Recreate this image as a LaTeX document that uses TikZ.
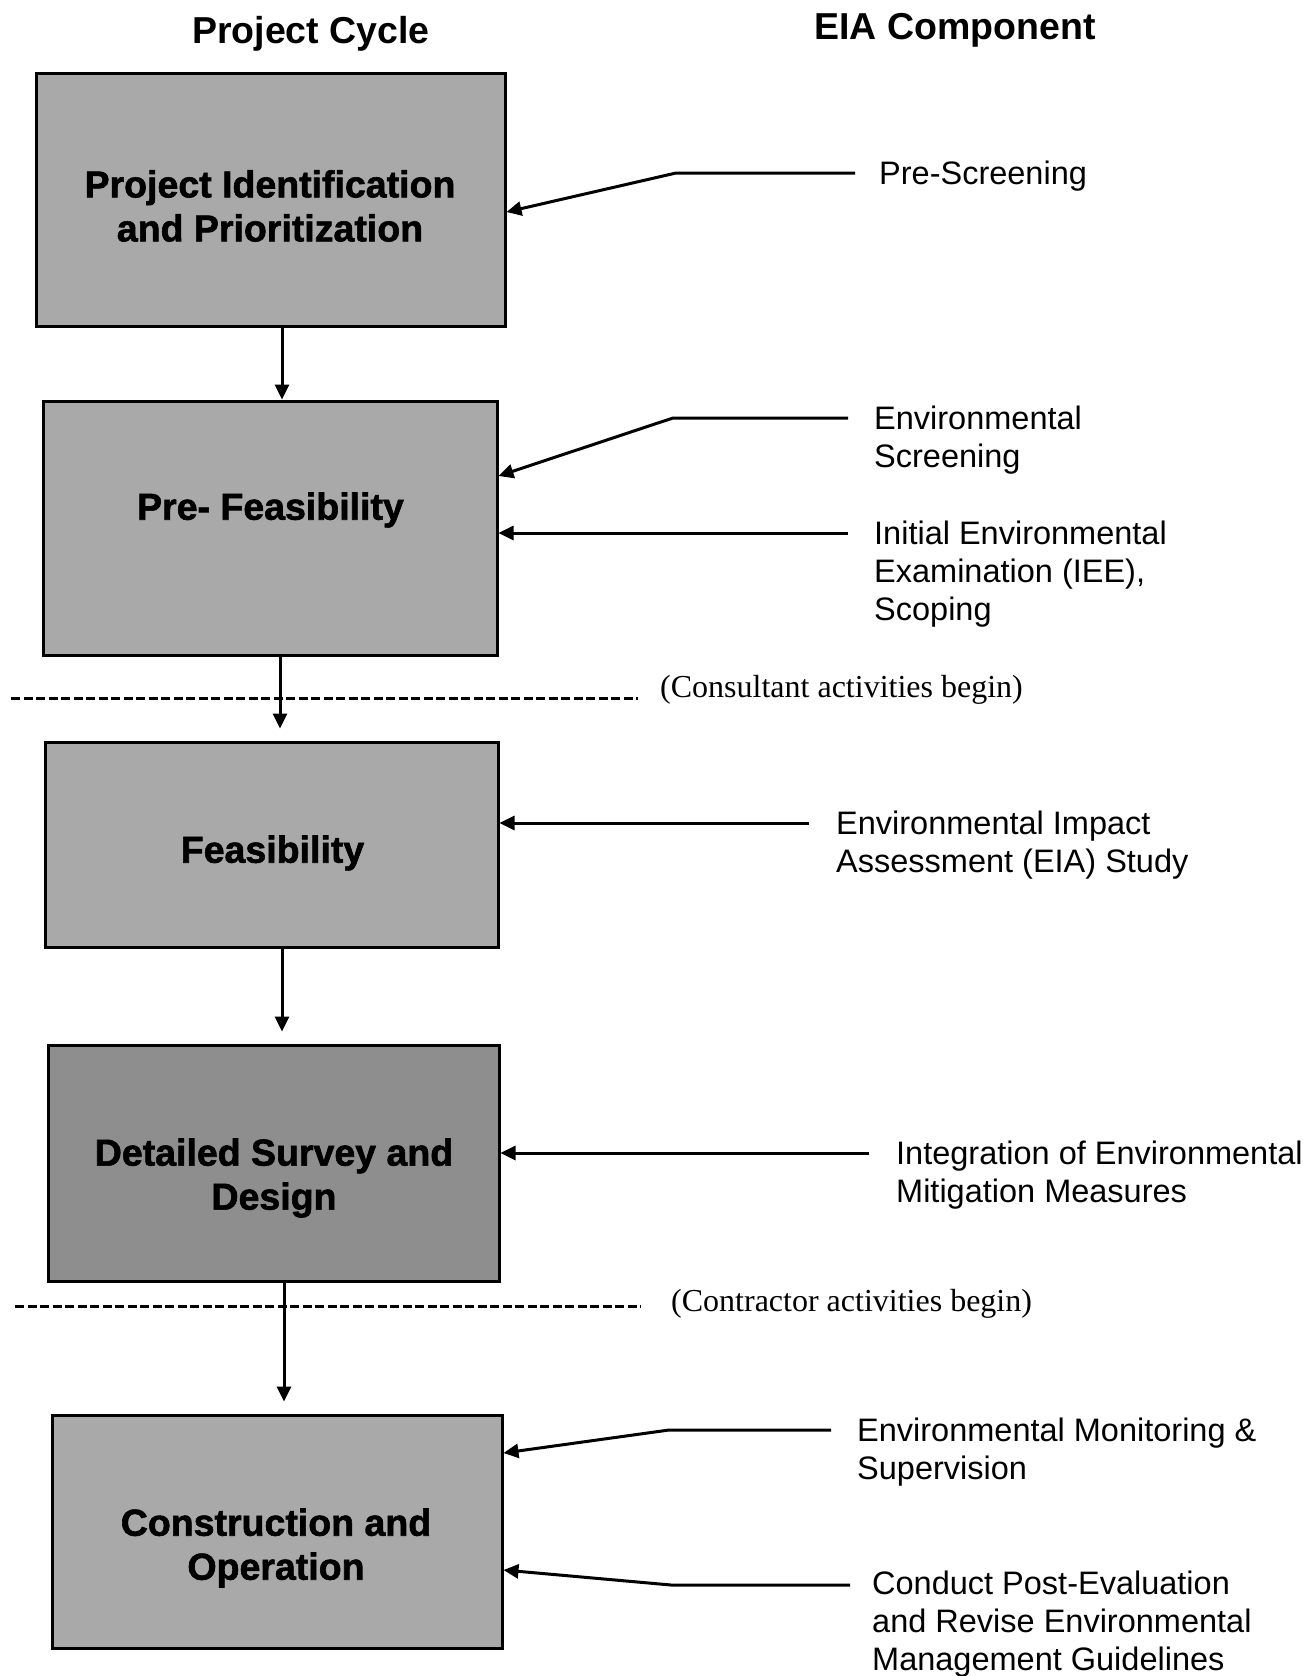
\documentclass[tikz,border=0pt]{standalone}
\usepackage{fontspec}
\setmainfont{Liberation Sans}
\newfontfamily\heavyfont[BoldFont={Liberation Sans Bold},BoldFeatures={FakeBold=1.6}]{Liberation Sans}
\newfontfamily\notefont{Liberation Serif}
\usetikzlibrary{arrows.meta,calc}
\definecolor{shade}{HTML}{A9A9A9}
\definecolor{darkshade}{HTML}{8E8E8E}
\tikzset{
  phase/.style={draw,line width=3pt,fill=shade,inner sep=0pt},
  phasetext/.style={font=\heavyfont\bfseries\fontsize{37.5}{44}\selectfont,align=center},
  heading/.style={font=\bfseries\fontsize{37.5}{44}\selectfont},
  eia/.style={font=\fontsize{32.5}{38}\selectfont,align=left,anchor=north west,inner sep=0pt},
  note/.style={font=\notefont\fontsize{32}{38}\selectfont,anchor=west,inner sep=0pt},
  flow/.style={line width=3pt,-{Triangle[length=15pt,width=14pt]}},
  feed/.style={line width=3pt,-{Triangle[length=15pt,width=14pt]}},
  divider/.style={line width=3pt,dash pattern=on 9pt off 3.5pt},
}

\begin{document}
\begin{tikzpicture}[x=1pt,y=-1pt]
  \path[use as bounding box,fill=white] (0,0) rectangle (1303,1676);
  % column headings
  \node[heading] (cycle) at (311,34) {Project Cycle};
  \node[heading] (comp) at (955,30) {EIA Component};
  % project cycle boxes
  \node[phase,minimum width=469pt,minimum height=253pt] (ident) at (270.5,199.5) {};
  \node[phase,minimum width=454pt,minimum height=254pt] (prefeas) at (270,528) {};
  \node[phase,minimum width=453pt,minimum height=205pt] (feas) at (271.5,844.5) {};
  \node[phase,fill=darkshade,minimum width=451pt,minimum height=236pt] (design) at (273.5,1163) {};
  \node[phase,minimum width=450pt,minimum height=233pt] (constr) at (277,1531.5) {};
  \node[phasetext] (identt) at (270,206) {Project Identification\\and Prioritization};
  \node[phasetext] (prefeast) at (270.5,510) {Pre- Feasibility};
  \node[phasetext] (feast) at (272.5,853) {Feasibility};
  \node[phasetext] (designt) at (274,1178) {Detailed Survey and\\Design};
  \node[phasetext] (constrt) at (276,1548) {Construction and\\Operation};
  \draw[flow] ([xshift=11.5pt]ident.south) -- ([xshift=12pt]prefeas.north);
  \draw[flow,shorten >=12pt] ([xshift=10pt]prefeas.south) -- ([xshift=8.5pt]feas.north);
  \draw[flow,shorten >=12pt] ([xshift=10.5pt]feas.south) -- ([xshift=8.5pt]design.north);
  \draw[flow,shorten >=12pt] ([xshift=10.5pt]design.south) -- ([xshift=7pt]constr.north);
  % EIA components
  \node[eia] (prescr) at (879,161) {Pre-Screening};
  \node[eia] (envscr) at (874,406) {Environmental\\Screening};
  \node[eia] (iee) at (874,521) {Initial Environmental\\Examination (IEE),\\Scoping};
  \node[eia] (eiastudy) at (836,811) {Environmental Impact\\Assessment (EIA) Study};
  \node[eia] (mitig) at (896,1141) {Integration of Environmental\\Mitigation Measures};
  \node[eia] (monit) at (857,1418) {Environmental Monitoring \&\\Supervision};
  \node[eia] (posteval) at (872,1571) {Conduct Post-Evaluation\\and Revise Environmental\\Management Guidelines};
  \coordinate (prescrin) at ($(prescr.north west)+(-24,12)$);
  \coordinate (envscrin) at ($(envscr.north west)+(-26,12)$);
  \coordinate (ieein) at ($(iee.north west)+(-26,12)$);
  \coordinate (eiain) at ($(eiastudy.north west)+(-27,12)$);
  \coordinate (mitigin) at ($(mitig.north west)+(-27,12)$);
  \coordinate (monitin) at ($(monit.north west)+(-26,12)$);
  \coordinate (postin) at ($(posteval.north west)+(-22,14)$);
  \draw[feed] (prescrin) -- ++(-179,0) -- ([yshift=-12.5pt]ident.east);
  \draw[feed] (envscrin) -- ++(-175,0) -- ([yshift=52pt]prefeas.east);
  \draw[feed] (ieein) -- (prefeas.east |- ieein);
  \draw[feed] (eiain) -- (feas.east |- eiain);
  \draw[feed] (mitigin) -- (design.east |- mitigin);
  \draw[feed] (monitin) -- ++(-162,0) -- ([yshift=78.5pt]constr.east);
  \draw[feed] (postin) -- ++(-179,0) -- ([yshift=-38.5pt]constr.east);
  % activity dividers
  \node[note] (consult) at (660,690) {(Consultant activities begin)};
  \node[note] (contract) at (671,1304) {(Contractor activities begin)};
  \coordinate (cleft) at (11,698);
  \coordinate (kleft) at (15,1306);
  \draw[divider] (cleft) -- ($(consult.west |- cleft)+(-22,0)$);
  \draw[divider] (kleft) -- ($(contract.west |- kleft)+(-30,0)$);
\end{tikzpicture}
\end{document}
